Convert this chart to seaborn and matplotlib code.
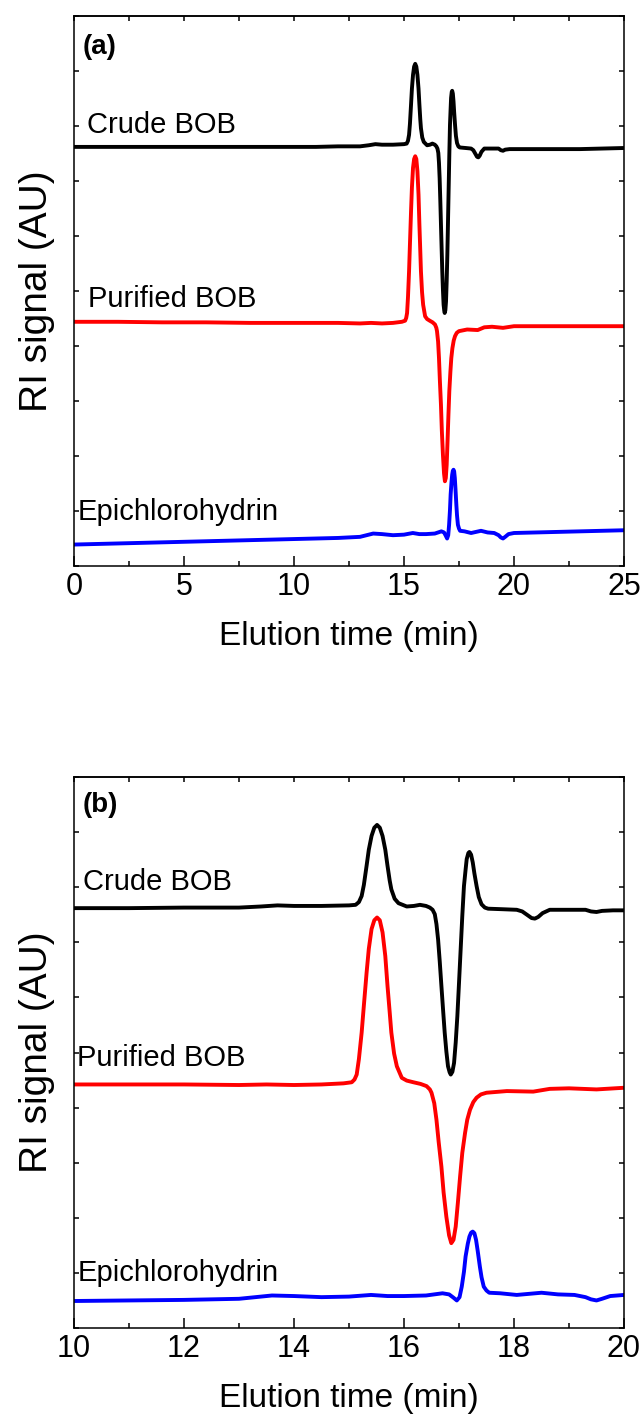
import matplotlib
matplotlib.use("Agg")
import matplotlib.pyplot as plt
import seaborn as sns
import pandas as pd
from matplotlib.ticker import MultipleLocator, NullFormatter

# ---------------- data ----------------
crude_t = [0, 2, 4, 6, 8, 10, 11, 12, 13, 13.4, 13.7, 14.0, 14.5, 15.0, 15.12, 15.18,
           15.23, 15.27, 15.32, 15.36, 15.41, 15.46, 15.51, 15.56, 15.61, 15.66, 15.70,
           15.74, 15.77, 15.83, 15.90, 16.05, 16.18, 16.29, 16.40, 16.47, 16.52, 16.56,
           16.59, 16.62, 16.65, 16.68, 16.71, 16.74, 16.77, 16.80, 16.83, 16.85, 16.88,
           16.91, 16.94, 16.97, 17.00, 17.03, 17.06, 17.09, 17.12, 17.14, 17.17, 17.19,
           17.22, 17.25, 17.28, 17.32, 17.36, 17.41, 17.47, 17.53, 17.8, 18.05, 18.15,
           18.25, 18.32, 18.38, 18.44, 18.52, 18.65, 19.0, 19.3, 19.4, 19.5, 19.6, 19.8,
           20, 21, 22, 23, 24, 25]
crude_y = [76.2, 76.2, 76.2, 76.2, 76.2, 76.2, 76.2, 76.3, 76.3, 76.5, 76.7, 76.6, 76.6,
           76.7, 76.8, 77.3, 78.4, 80.4, 83.9, 86.8, 89.3, 90.8, 91.3, 90.8, 89.3, 86.8,
           83.9, 81.2, 79.6, 77.9, 77.1, 76.5, 76.6, 76.8, 76.6, 76.3, 75.9, 75.1, 73.3,
           70.5, 66.5, 62.1, 57.8, 53.6, 50.2, 47.5, 46.4, 46.0, 46.5, 48.1, 51.8, 56.6,
           62.6, 68.7, 74.8, 80.2, 83.2, 85.1, 86.2, 86.4, 85.9, 84.5, 82.5, 80.2, 78.2,
           76.9, 76.3, 76.1, 76.0, 75.9, 75.6, 74.9, 74.4, 74.3, 74.6, 75.3, 75.9, 75.9,
           75.9, 75.6, 75.5, 75.7, 75.8, 75.8, 75.8, 75.8, 75.8, 75.9, 76.0]

purified_t = [0, 2, 4, 6, 8, 10, 12, 13, 13.5, 14, 14.5, 14.9, 15.05, 15.10, 15.14, 15.18,
              15.23, 15.27, 15.32, 15.36, 15.41, 15.46, 15.51, 15.56, 15.61, 15.66, 15.70,
              15.74, 15.77, 15.82, 15.87, 15.96, 16.05, 16.17, 16.30, 16.41, 16.47, 16.50,
              16.55, 16.59, 16.63, 16.68, 16.72, 16.77, 16.82, 16.86, 16.90, 16.94, 16.98,
              17.02, 17.06, 17.11, 17.15, 17.20, 17.26, 17.32, 17.40, 17.50, 17.87, 18.35,
              18.65, 19.0, 19.5, 20, 21, 22, 23, 24, 25]
purified_y = [44.4, 44.4, 44.3, 44.3, 44.2, 44.2, 44.2, 44.1, 44.2, 44.1, 44.2, 44.4, 44.6,
              45.1, 46.0, 48.8, 53.6, 58.5, 64.5, 68.8, 72.4, 74.0, 74.5, 74.0, 71.8, 67.5,
              62.1, 57.3, 53.6, 49.8, 47.5, 45.4, 44.9, 44.6, 44.3, 43.9, 43.3, 42.7, 40.8,
              37.8, 33.8, 29.3, 24.6, 20.2, 16.8, 15.4, 16.0, 18.4, 22.8, 27.5, 31.8, 35.4,
              37.8, 39.6, 41.0, 41.8, 42.4, 42.7, 43.0, 42.9, 43.4, 43.5, 43.3, 43.6, 43.6,
              43.6, 43.6, 43.6, 43.6]

epi_t = [0, 2, 4, 6, 8, 10, 11, 12, 13, 13.3, 13.6, 14.0, 14.5, 15.0, 15.4, 15.7, 16.0,
         16.4, 16.7, 16.82, 16.90, 16.96, 17.01, 17.05, 17.09, 17.12, 17.16, 17.19, 17.22,
         17.25, 17.28, 17.31, 17.34, 17.38, 17.41, 17.45, 17.50, 17.55, 17.75, 18.05, 18.5,
         18.8, 19.1, 19.3, 19.4, 19.5, 19.6, 19.75, 20, 21, 22, 23, 24, 25]
epi_y = [3.9, 4.1, 4.3, 4.5, 4.7, 4.9, 5.0, 5.1, 5.3, 5.6, 5.9, 5.8, 5.6, 5.7, 6.0, 5.8,
         5.8, 5.9, 6.3, 6.1, 5.5, 5.0, 5.6, 7.5, 10.2, 13.0, 15.3, 16.6, 17.3, 17.5, 17.2,
         16.0, 14.0, 11.1, 9.2, 7.5, 6.8, 6.4, 6.3, 6.0, 6.4, 6.1, 6.0, 5.6, 5.2, 5.0, 5.3,
         5.8, 6.0, 6.1, 6.2, 6.3, 6.4, 6.5]

series_names = ["Crude BOB", "Purified BOB", "Epichlorohydrin"]
series_colors = ["#000000", "#ff0000", "#0000ff"]
panel_letters = ["(a)", "(b)"]
panel_xlims = [(0, 25), (10, 20)]
panel_xmajor = [5, 2]
panel_xminor = [2.5, 1]
x_label = "Elution time (min)"
y_label = "RI signal (AU)"

frames = []
for name, t, y in zip(series_names, [crude_t, purified_t, epi_t], [crude_y, purified_y, epi_y]):
    frames.append(pd.DataFrame({"time": t, "signal": y, "sample": name}))
df = pd.concat(frames, ignore_index=True)

# ---------------- style ----------------
sns.set_style("ticks")
plt.rcParams["font.family"] = ["Liberation Sans", "DejaVu Sans"]
plt.rcParams["axes.linewidth"] = 1.1
plt.rcParams["text.color"] = "black"
plt.rcParams["axes.labelcolor"] = "black"
plt.rcParams["xtick.color"] = "black"
plt.rcParams["ytick.color"] = "black"
plt.rcParams["axes.edgecolor"] = "black"

fig = plt.figure(figsize=(6.44, 14.14), dpi=100)
ax_a = fig.add_axes([74 / 644, 1 - 566 / 1414, 550 / 644, 550 / 1414])
ax_b = fig.add_axes([74 / 644, 1 - 1328 / 1414, 550 / 644, 551 / 1414])

label_pos = [
    [(0.024, 0.787), (0.026, 0.471), (0.007, 0.084)],
    [(0.016, 0.795), (0.006, 0.476), (0.006, 0.085)],
]
letter_pos = [(0.016, 0.931), (0.016, 0.936)]

for i, ax in enumerate([ax_a, ax_b]):
    sub = df[(df["time"] >= panel_xlims[i][0] - 1) & (df["time"] <= panel_xlims[i][1] + 1)]
    sns.lineplot(data=sub, x="time", y="signal", hue="sample", palette=series_colors,
                 hue_order=series_names, sort=False, estimator=None, linewidth=2.8,
                 legend=False, ax=ax, solid_joinstyle="round", solid_capstyle="butt")
    ax.set_xlim(*panel_xlims[i])
    ax.set_ylim(0, 100)
    ax.xaxis.set_major_locator(MultipleLocator(panel_xmajor[i]))
    ax.xaxis.set_minor_locator(MultipleLocator(panel_xminor[i]))
    ax.yaxis.set_major_locator(MultipleLocator(10))
    ax.yaxis.set_major_formatter(NullFormatter())
    ax.tick_params(axis="x", which="major", direction="in", length=7, width=1.1,
                   labelsize=22, pad=4, top=False, colors="black")
    ax.tick_params(axis="x", which="minor", direction="in", length=3.5, width=1.1, top=False)
    ax.tick_params(axis="y", which="major", direction="in", length=3.5, width=1.1, left=True,
                   right=True, labelleft=False)
    for s in ["top", "right", "left", "bottom"]:
        ax.spines[s].set_visible(True)
        ax.spines[s].set_color("black")
    sec = ax.secondary_xaxis("top")
    sec.xaxis.set_major_locator(MultipleLocator(panel_xminor[i]))
    sec.tick_params(axis="x", which="major", direction="in", length=3.5, labeltop=False,
                    width=1.1)
    sec.tick_params(axis="x", which="minor", length=0)
    ax.set_xlabel(x_label, fontsize=24, labelpad=14, color="black")
    ax.set_ylabel(y_label, fontsize=28, labelpad=14, color="black")
    for name, (px, py) in zip(series_names, label_pos[i]):
        ax.text(px, py, name, transform=ax.transAxes, fontsize=21, ha="left",
                va="baseline", color="black")
    ax.text(letter_pos[i][0], letter_pos[i][1], panel_letters[i], transform=ax.transAxes,
            fontsize=20, fontweight="bold", ha="left", va="baseline", color="black")

fig.savefig("out.png", dpi=100)
